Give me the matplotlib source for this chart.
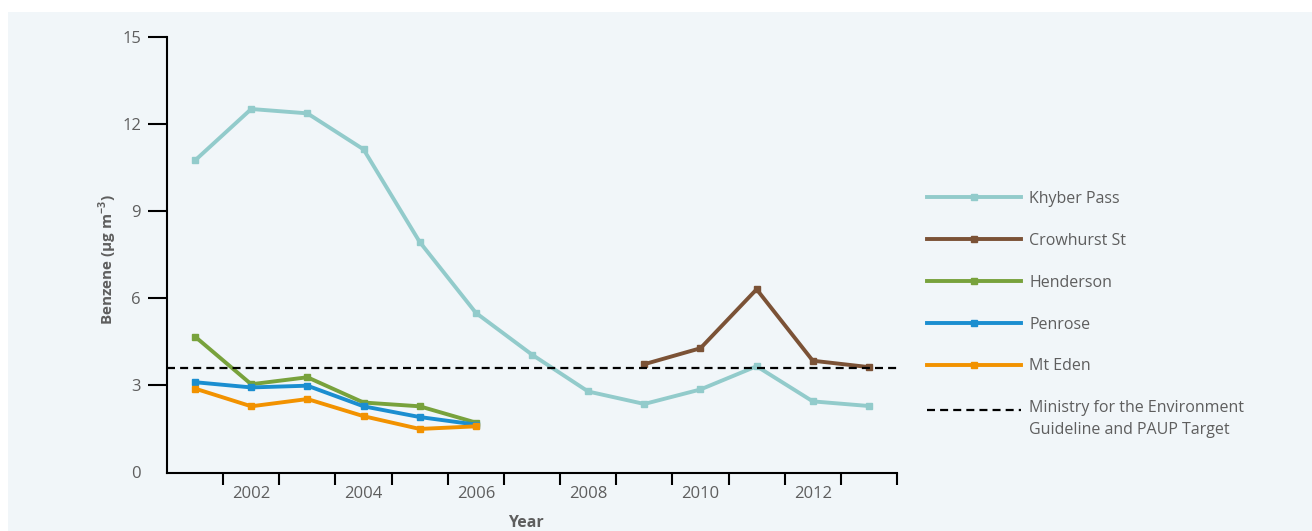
import numpy as np
import matplotlib
matplotlib.use('Agg')
import matplotlib.pyplot as plt
from matplotlib.patches import Rectangle

plt.rcParams['font.family'] = ['Open Sans', 'DejaVu Sans']
plt.rcParams['mathtext.fontset'] = 'custom'
plt.rcParams['mathtext.rm'] = 'Open Sans'
plt.rcParams['mathtext.bf'] = 'Open Sans:bold'

# data (annual mean benzene, ug/m3)
years_khyber = [2001, 2002, 2003, 2004, 2005, 2006, 2007, 2008, 2009, 2010, 2011, 2012, 2013]
khyber = [10.75, 12.52, 12.37, 11.13, 7.94, 5.50, 4.06, 2.79, 2.36, 2.86, 3.66, 2.45, 2.29]

years_crow = [2009, 2010, 2011, 2012, 2013]
crowhurst = [3.73, 4.28, 6.31, 3.85, 3.63]

years_early = [2001, 2002, 2003, 2004, 2005, 2006]
henderson = [4.68, 3.04, 3.28, 2.41, 2.28, 1.72]
penrose = [3.11, 2.93, 2.99, 2.28, 1.91, 1.65]
mt_eden = [2.89, 2.28, 2.53, 1.94, 1.50, 1.59]

guideline = 3.6

year_labels = [2002, 2004, 2006, 2008, 2010, 2012]
y_ticks = [0, 3, 6, 9, 12, 15]

text_col = '#5e5e5e'
bg = '#f1f6f9'

fig = plt.figure(figsize=(13.12, 5.31), dpi=100)
fig.patch.set_facecolor('white')
fig.add_artist(Rectangle((8 / 1312, 0), 1, 1 - 12 / 531, transform=fig.transFigure,
                         facecolor=bg, edgecolor='none', zorder=-10))

ax = fig.add_axes([167 / 1312, 1 - 472.5 / 531, 730 / 1312, 435.5 / 531])
ax.set_facecolor('none')

lw = 2.8
ms = 5
ax.plot(years_early, henderson, color='#78a23c', lw=lw, marker='s', ms=ms, label='Henderson', zorder=3)
ax.plot(years_early, penrose, color='#1b8ed0', lw=lw, marker='s', ms=ms, label='Penrose', zorder=4)
ax.plot(years_early, mt_eden, color='#f29200', lw=lw, marker='s', ms=ms, label='Mt Eden', zorder=5)
ax.plot(years_khyber, khyber, color='#92cbcb', lw=lw, marker='s', ms=ms, label='Khyber Pass', zorder=3)
ax.plot(years_crow, crowhurst, color='#7b5236', lw=lw, marker='s', ms=ms, label='Crowhurst St', zorder=3)
ax.axhline(guideline, color='black', lw=1.6, linestyle=(0, (3.6, 2.3)), zorder=6,
           label='Ministry for the Environment\nGuideline and PAUP Target')

ax.set_xlim(2000.5, 2013.5)
ax.set_ylim(0, 15)

ax.set_xticks(year_labels)
ax.set_xticklabels([str(y) for y in year_labels])
ax.set_xticks(np.arange(2001.5, 2014, 1), minor=True)
ax.tick_params(axis='x', which='major', length=0, pad=9.5, labelsize=12, labelcolor=text_col)
ax.tick_params(axis='x', which='minor', length=8.6, width=1.5, color='black')

ax.set_yticks(y_ticks)
ax.tick_params(axis='y', length=13.7, width=1.5, pad=5, labelsize=12, labelcolor=text_col)
ax.yaxis.get_major_ticks()[0].tick1line.set_visible(False)

for s in ['top', 'right']:
    ax.spines[s].set_visible(False)
for s in ['left', 'bottom']:
    ax.spines[s].set_linewidth(1.5)

ax.text(0.492, -0.115, 'Year', transform=ax.transAxes, ha='center', va='center',
        fontsize=11.5, fontweight='bold', color=text_col)
ax.text(-0.081, 0.49, r'Benzene (µg m$^{\mathbf{-3}}$)', transform=ax.transAxes, rotation=90,
        ha='center', va='center', fontsize=11, fontweight='bold', color=text_col)

# legend in the reference order
h, l = ax.get_legend_handles_labels()
order = [3, 4, 0, 1, 2, 5]
leg = fig.legend([h[i] for i in order], [l[i] for i in order],
                 loc='upper left', bbox_to_anchor=(927 / 1312, 1 - 191 / 531),
                 frameon=False, fontsize=11.5, handlelength=5.9, handletextpad=0.5,
                 labelspacing=1.62, borderpad=0, borderaxespad=0, numpoints=1)
for t in leg.get_texts():
    t.set_color(text_col)
leg.get_texts()[-1].set_linespacing(1.45)
# put the dashed sample level with the first line of its two-line label
dash = leg.get_lines()[-1]
dash.set_ydata(np.asarray(dash.get_ydata()) + 6.5)

fig.savefig('out.png', dpi=100, facecolor='white')
